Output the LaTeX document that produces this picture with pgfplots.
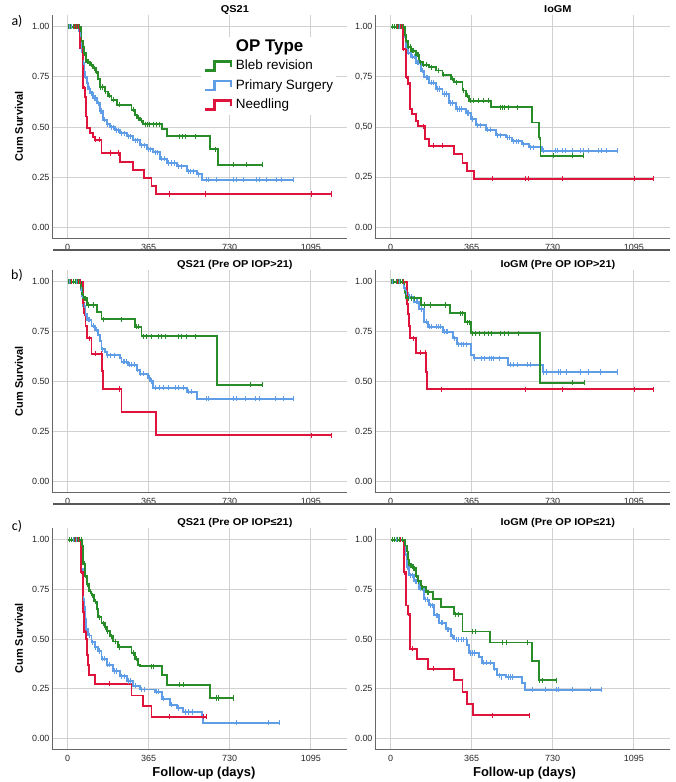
\documentclass[border=0pt]{standalone}
\usepackage{fontspec}
\setmainfont{Liberation Sans}
\newfontfamily\calibri{Carlito}
\newfontfamily\ttlfont{Liberation Sans}[FakeStretch=1.1]
\usepackage{pgfplots}
\pgfplotsset{compat=1.18}

\definecolor{kmgreen}{RGB}{40,140,40}
\definecolor{kmblue}{RGB}{95,158,230}
\definecolor{kmred}{RGB}{222,20,60}

% one Kaplan-Meier curve: colour, steps (time, survival), censored cases
\newcommand{\km}[3]{%
  \addplot[#1, const plot, line width=1.9pt, line join=miter, forget plot] coordinates {#2};
  \addplot[#1, only marks, mark=|, mark size=2.6pt, line width=1pt, forget plot] coordinates {#3};
}

\pgfplotsset{
  kmaxis/.style={
    scale only axis, width=295bp, height=222bp,
    xmin=-70, xmax=1258, ymin=-0.052, ymax=1.058,
    xtick={0,365,730,1095}, xticklabels={0,365,730,1095},
    ytick={0,0.25,0.5,0.75,1}, yticklabels={0.00,0.25,0.50,0.75,1.00},
    grid=major, grid style={draw=black!18, line width=0.8pt},
    axis lines*=left, axis line style={-, draw=black!60, line width=0.8pt},
    major tick length=0pt,
    tick label style={font=\fontsize{9}{10}\selectfont, text=black!85},
    xticklabel style={yshift=-2.5pt},
    yticklabel style={xshift=1pt},
    title style={at={(axis description cs:0.62,1)}, anchor=base, yshift=-3pt, inner sep=0pt,
      font=\ttlfont\bfseries\fontsize{10}{12}\selectfont},
    ylabel style={at={(axis description cs:-0.112,0.5)}, anchor=center, inner sep=0pt,
      font=\bfseries\fontsize{11}{13}\selectfont},
    xlabel style={at={(axis description cs:0.515,0)}, anchor=base, yshift=-28pt, inner sep=0pt,
      font=\bfseries\fontsize{13}{15}\selectfont},
  },
}

\begin{document}
\begin{tikzpicture}
\useasboundingbox (0,0) rectangle (676bp,-782bp);

% ---------------- a) QS21 ----------------
\begin{axis}[kmaxis, at={(52bp,-15bp)}, anchor=north west, height=223bp,
  title={QS21}, ylabel={Cum Survival},
  legend image code/.code={\draw[#1, line width=2.4pt] (0pt,-4.1pt) -- (9pt,-4.1pt) -- (9pt,4.9pt) -- (26pt,4.9pt) -- (26pt,-0.8pt);},
  legend cell align=left,
  legend style={at={(axis description cs:0.505,0.902)}, anchor=north west, draw=none, fill=white,
    inner xsep=3pt, inner ysep=3pt, font=\fontsize{13.5}{14}\selectfont, row sep=6pt, column sep=3.5pt,
    nodes={inner sep=0pt, text height=10pt, text depth=3.6pt}},
]
\km{kmblue}{(0,1)(51,0.98)(56,0.96)(60,0.93)(63,0.884)(68,0.85)(71,0.82)(74,0.776)(78,0.75)(86,0.718)(93,0.69)(101,0.669)(116,0.645)(131,0.619)(146,0.58)(161,0.536)(176,0.515)(191,0.50)(213,0.485)(236,0.47)(266,0.455)(296,0.435)(326,0.41)(356,0.39)(386,0.375)(416,0.343)(446,0.321)(491,0.305)(536,0.28)(581,0.265)(604,0.238)(1017,0.238)}
  {(10,1)(20,1)(30,1)(40,1)(58,0.96)(65,0.884)(72,0.82)(80,0.75)(90,0.718)(97,0.69)(108,0.669)(112,0.669)(120,0.645)(125,0.645)(138,0.619)(150,0.58)(155,0.58)(168,0.536)(182,0.515)(196,0.50)(205,0.50)(220,0.485)(228,0.485)(245,0.47)(255,0.47)(275,0.455)(285,0.455)(305,0.435)(315,0.435)(335,0.41)(345,0.41)(365,0.39)(375,0.39)(395,0.375)(405,0.375)(425,0.343)(435,0.343)(455,0.321)(470,0.321)(480,0.321)(500,0.305)(515,0.305)(545,0.28)(555,0.28)(565,0.28)(590,0.265)(626,0.238)(634,0.238)(671,0.238)(746,0.238)(761,0.238)(791,0.238)(851,0.238)(866,0.238)(896,0.238)(941,0.238)(963,0.238)(1017,0.238)}
\km{kmred}{(0,1)(56,0.892)(68,0.752)(71,0.694)(78,0.652)(83,0.553)(89,0.495)(101,0.47)(116,0.45)(123,0.437)(153,0.371)(236,0.325)(296,0.285)(345,0.247)(378,0.205)(398,0.167)(1190,0.167)}
  {(15,1)(30,1)(42,1)(50,1)(68,0.752)(75,0.694)(128,0.437)(145,0.437)(195,0.371)(231,0.371)(461,0.167)(622,0.167)(1099,0.167)(1190,0.167)}
\km{kmgreen}{(0,1)(60,0.97)(63,0.93)(68,0.90)(74,0.868)(83,0.826)(101,0.81)(116,0.793)(128,0.776)(138,0.738)(146,0.70)(168,0.677)(183,0.656)(198,0.636)(221,0.611)(288,0.586)(303,0.561)(311,0.545)(326,0.533)(341,0.515)(424,0.49)(446,0.454)(641,0.39)(676,0.313)(877,0.313)}
  {(5,1)(15,1)(25,1)(35,1)(45,1)(55,1)(70,0.90)(78,0.868)(88,0.826)(95,0.826)(106,0.81)(120,0.793)(132,0.776)(150,0.70)(158,0.70)(173,0.677)(188,0.656)(208,0.636)(236,0.611)(296,0.586)(318,0.545)(333,0.533)(349,0.515)(360,0.515)(371,0.515)(386,0.515)(401,0.515)(416,0.515)(506,0.454)(518,0.454)(529,0.454)(574,0.454)(664,0.39)(746,0.313)(807,0.313)(877,0.313)}
\addlegendimage{empty legend}
\addlegendentry{\raisebox{-1.2pt}{\fontsize{17}{17}\selectfont\bfseries OP Type}}
\addlegendimage{kmgreen}
\addlegendentry{Bleb revision}
\addlegendimage{kmblue}
\addlegendentry{Primary Surgery}
\addlegendimage{kmred}
\addlegendentry{Needling}
\end{axis}

% ---------------- a) IoGM ----------------
\begin{axis}[kmaxis, at={(375bp,-15bp)}, anchor=north west, height=223bp,
  title={IoGM}, yticklabels={0.00,{0,25},{0,50},{0,75},1.00}]
\km{kmblue}{(0,1)(66,0.95)(70,0.90)(78,0.87)(93,0.85)(115,0.82)(137,0.78)(152,0.748)(175,0.72)(205,0.69)(234,0.665)(264,0.62)(294,0.59)(339,0.57)(361,0.54)(384,0.51)(428,0.487)(473,0.46)(518,0.448)(548,0.43)(593,0.415)(623,0.40)(682,0.383)(1023,0.383)}
  {(10,1)(25,1)(40,1)(72,0.90)(82,0.87)(100,0.85)(108,0.85)(120,0.82)(128,0.82)(142,0.78)(160,0.748)(168,0.748)(183,0.72)(192,0.72)(212,0.69)(222,0.69)(242,0.665)(250,0.665)(270,0.62)(280,0.62)(300,0.59)(310,0.59)(320,0.59)(345,0.57)(352,0.57)(368,0.54)(392,0.51)(405,0.51)(435,0.487)(450,0.487)(480,0.46)(495,0.46)(525,0.448)(535,0.448)(555,0.43)(565,0.43)(575,0.43)(600,0.415)(630,0.40)(645,0.40)(690,0.383)(742,0.383)(753,0.383)(772,0.383)(787,0.383)(817,0.383)(854,0.383)(869,0.383)(891,0.383)(936,0.383)(951,0.383)(973,0.383)(1023,0.383)}
\km{kmred}{(0,1)(58,0.89)(70,0.75)(78,0.72)(88,0.59)(97,0.565)(115,0.53)(122,0.505)(157,0.44)(175,0.407)(287,0.365)(324,0.323)(346,0.282)(376,0.243)(1185,0.243)}
  {(30,1)(45,1)(52,1)(60,0.89)(72,0.75)(75,0.72)(80,0.72)(150,0.505)(193,0.407)(234,0.407)(458,0.243)(608,0.243)(620,0.243)(776,0.243)(1096,0.243)(1185,0.243)}
\km{kmgreen}{(0,1)(66,0.96)(70,0.93)(78,0.90)(93,0.88)(115,0.86)(130,0.823)(145,0.81)(175,0.798)(205,0.782)(234,0.76)(272,0.74)(287,0.723)(324,0.682)(339,0.656)(354,0.632)(451,0.598)(638,0.523)(670,0.448)(675,0.357)(873,0.357)}
  {(8,1)(18,1)(28,1)(38,1)(48,1)(58,1)(72,0.93)(82,0.90)(88,0.90)(98,0.88)(105,0.88)(120,0.86)(125,0.86)(135,0.823)(150,0.81)(160,0.81)(185,0.798)(215,0.782)(240,0.76)(278,0.74)(295,0.723)(330,0.682)(345,0.656)(360,0.632)(375,0.632)(395,0.632)(420,0.632)(440,0.632)(496,0.598)(505,0.598)(515,0.598)(533,0.598)(570,0.598)(670,0.448)(735,0.357)(817,0.357)(869,0.357)}
\end{axis}

% ---------------- b) QS21 (Pre OP IOP>21) ----------------
\begin{axis}[kmaxis, at={(52bp,-270bp)}, anchor=north west, height=222bp,
  title={QS21 (Pre OP IOP>21)}, ylabel={Cum Survival}]
\km{kmblue}{(0,1)(60,0.96)(65,0.93)(71,0.88)(78,0.84)(89,0.81)(108,0.78)(123,0.76)(138,0.732)(146,0.702)(153,0.662)(168,0.649)(176,0.632)(236,0.62)(243,0.599)(273,0.585)(311,0.56)(326,0.54)(363,0.52)(371,0.503)(386,0.47)(536,0.45)(581,0.415)(1020,0.415)}
  {(10,1)(25,1)(40,1)(50,1)(62,0.96)(68,0.93)(75,0.88)(82,0.84)(95,0.81)(100,0.81)(115,0.78)(130,0.76)(158,0.662)(180,0.632)(195,0.632)(210,0.632)(250,0.599)(258,0.599)(265,0.599)(280,0.585)(290,0.585)(300,0.585)(315,0.56)(330,0.54)(340,0.54)(368,0.52)(376,0.503)(394,0.47)(416,0.47)(431,0.47)(454,0.47)(484,0.47)(499,0.47)(521,0.47)(545,0.45)(560,0.45)(626,0.415)(634,0.415)(746,0.415)(761,0.415)(799,0.415)(844,0.415)(866,0.415)(934,0.415)(971,0.415)(1017,0.415)}
\km{kmred}{(0,1)(68,0.891)(75,0.841)(81,0.779)(89,0.716)(108,0.64)(156,0.555)(160,0.463)(243,0.348)(398,0.231)(1190,0.231)}
  {(20,1)(35,1)(48,1)(60,1)(70,0.891)(78,0.841)(101,0.716)(128,0.64)(154,0.64)(158,0.555)(236,0.463)(1099,0.231)(1187,0.231)}
\km{kmgreen}{(0,1)(60,0.97)(65,0.94)(71,0.916)(89,0.883)(131,0.85)(153,0.811)(303,0.774)(333,0.727)(671,0.485)(877,0.485)}
  {(5,1)(15,1)(25,1)(35,1)(45,1)(55,1)(68,0.94)(75,0.916)(80,0.916)(93,0.883)(116,0.883)(161,0.811)(243,0.811)(311,0.774)(318,0.774)(341,0.727)(356,0.727)(379,0.727)(409,0.727)(424,0.727)(439,0.727)(499,0.727)(514,0.727)(536,0.727)(574,0.727)(822,0.485)(877,0.485)}
\end{axis}

% ---------------- b) IoGM (Pre OP IOP>21) ----------------
\begin{axis}[kmaxis, at={(375bp,-270bp)}, anchor=north west, height=222bp,
  title={IoGM (Pre OP IOP>21)}]
\km{kmblue}{(0,1)(60,0.97)(66,0.945)(78,0.925)(107,0.90)(130,0.863)(152,0.80)(169,0.774)(237,0.749)(281,0.716)(300,0.687)(364,0.632)(375,0.616)(528,0.585)(686,0.548)(1023,0.548)}
  {(10,1)(25,1)(40,1)(62,0.97)(70,0.945)(85,0.925)(95,0.925)(115,0.90)(120,0.90)(140,0.863)(160,0.80)(175,0.774)(185,0.774)(205,0.774)(215,0.774)(225,0.774)(245,0.749)(250,0.749)(255,0.749)(290,0.716)(305,0.687)(320,0.687)(330,0.687)(340,0.687)(380,0.616)(410,0.616)(425,0.616)(445,0.616)(455,0.616)(465,0.616)(490,0.616)(540,0.585)(555,0.585)(570,0.585)(615,0.585)(630,0.585)(690,0.548)(700,0.548)(755,0.548)(765,0.548)(790,0.548)(855,0.548)(890,0.548)(945,0.548)(1023,0.548)}
\km{kmred}{(0,1)(73,0.89)(78,0.836)(82,0.78)(88,0.716)(115,0.644)(160,0.549)(163,0.462)(1185,0.462)}
  {(30,1)(45,1)(60,1)(75,0.89)(80,0.836)(103,0.716)(137,0.644)(158,0.644)(231,0.462)(608,0.462)(776,0.462)(1096,0.462)(1185,0.462)}
\km{kmgreen}{(0,1)(63,0.95)(70,0.916)(139,0.883)(267,0.841)(334,0.796)(364,0.741)(671,0.495)(873,0.495)}
  {(5,1)(15,1)(25,1)(35,1)(45,1)(55,1)(80,0.916)(95,0.916)(110,0.916)(152,0.883)(182,0.883)(249,0.883)(317,0.841)(324,0.841)(346,0.796)(354,0.796)(369,0.741)(384,0.741)(402,0.741)(421,0.741)(443,0.741)(455,0.741)(496,0.741)(511,0.741)(533,0.741)(578,0.741)(820,0.495)(873,0.495)}
\end{axis}

% ---------------- c) QS21 (Pre OP IOP<=21) ----------------
\begin{axis}[kmaxis, at={(52bp,-528bp)}, anchor=north west, height=221bp,
  title={QS21 (Pre OP IOP≤21)}, ylabel={Cum Survival}, xlabel={Follow-up (days)}]
\km{kmblue}{(0,1)(63,0.85)(68,0.702)(74,0.66)(78,0.602)(83,0.552)(93,0.518)(108,0.485)(123,0.46)(138,0.44)(153,0.401)(176,0.371)(206,0.34)(236,0.314)(266,0.29)(296,0.265)(326,0.247)(394,0.235)(424,0.20)(461,0.17)(491,0.154)(521,0.134)(604,0.11)(608,0.08)(954,0.08)}
  {(10,1)(25,1)(40,1)(70,0.702)(85,0.552)(100,0.518)(112,0.485)(128,0.46)(142,0.44)(158,0.401)(165,0.401)(182,0.371)(190,0.371)(212,0.34)(220,0.34)(245,0.314)(255,0.314)(275,0.29)(282,0.29)(305,0.265)(335,0.247)(345,0.247)(400,0.235)(410,0.235)(430,0.20)(470,0.17)(498,0.154)(529,0.134)(544,0.134)(563,0.134)(761,0.08)(904,0.08)(954,0.08)}
\km{kmred}{(0,1)(60,0.839)(68,0.635)(74,0.543)(83,0.50)(89,0.418)(93,0.37)(98,0.318)(123,0.276)(288,0.217)(341,0.164)(378,0.11)(626,0.11)}
  {(20,1)(35,1)(50,1)(62,0.839)(72,0.543)(78,0.543)(191,0.276)(461,0.11)(611,0.11)(626,0.11)}
\km{kmgreen}{(0,1)(65,0.97)(71,0.878)(78,0.819)(89,0.777)(98,0.739)(108,0.72)(120,0.689)(131,0.652)(138,0.61)(153,0.58)(168,0.56)(176,0.54)(191,0.515)(206,0.488)(228,0.46)(288,0.43)(303,0.401)(318,0.37)(326,0.363)(424,0.318)(446,0.271)(641,0.204)(746,0.204)}
  {(8,1)(20,1)(30,1)(45,1)(55,1)(62,1)(75,0.878)(82,0.819)(92,0.777)(103,0.739)(112,0.72)(125,0.689)(135,0.652)(145,0.61)(160,0.58)(172,0.56)(182,0.54)(200,0.515)(215,0.488)(235,0.46)(297,0.43)(310,0.401)(378,0.363)(389,0.363)(506,0.271)(521,0.271)(671,0.204)(679,0.204)(746,0.204)}
\end{axis}

% ---------------- c) IoGM (Pre OP IOP<=21) ----------------
\begin{axis}[kmaxis, at={(375bp,-528bp)}, anchor=north west, height=221bp,
  title={IoGM (Pre OP IOP≤21)}, xlabel={Follow-up (days)},
  xlabel style={at={(axis description cs:0.507,0)}}]
\km{kmblue}{(0,1)(67,0.92)(73,0.861)(85,0.82)(107,0.79)(130,0.753)(152,0.699)(175,0.67)(197,0.619)(220,0.582)(249,0.55)(272,0.515)(287,0.498)(346,0.47)(354,0.43)(399,0.41)(413,0.381)(466,0.351)(481,0.318)(518,0.31)(593,0.281)(605,0.246)(951,0.246)}
  {(10,1)(25,1)(40,1)(70,0.92)(78,0.861)(90,0.82)(98,0.82)(112,0.79)(118,0.79)(135,0.753)(142,0.753)(158,0.699)(165,0.699)(182,0.67)(190,0.67)(205,0.619)(210,0.619)(228,0.582)(235,0.582)(255,0.55)(262,0.55)(278,0.515)(295,0.498)(305,0.498)(318,0.498)(330,0.498)(340,0.498)(360,0.43)(370,0.43)(380,0.43)(420,0.381)(430,0.381)(450,0.381)(470,0.351)(490,0.318)(500,0.31)(530,0.31)(540,0.31)(550,0.31)(638,0.246)(697,0.246)(749,0.246)(757,0.246)(819,0.246)(898,0.246)(951,0.246)}
\km{kmred}{(0,1)(60,0.836)(70,0.669)(78,0.627)(88,0.452)(119,0.401)(167,0.351)(287,0.293)(324,0.234)(346,0.176)(373,0.117)(627,0.117)}
  {(30,1)(45,1)(52,1)(62,0.836)(82,0.627)(97,0.452)(194,0.351)(458,0.117)(627,0.117)}
\km{kmgreen}{(0,1)(66,0.97)(73,0.94)(78,0.90)(85,0.87)(100,0.855)(115,0.819)(122,0.79)(137,0.761)(160,0.736)(190,0.70)(227,0.661)(287,0.625)(324,0.538)(446,0.483)(638,0.388)(670,0.293)(747,0.293)}
  {(8,1)(18,1)(30,1)(42,1)(55,1)(75,0.94)(88,0.87)(95,0.87)(105,0.855)(110,0.855)(118,0.819)(128,0.79)(140,0.761)(145,0.761)(165,0.736)(170,0.736)(294,0.625)(306,0.625)(369,0.538)(384,0.538)(503,0.483)(521,0.483)(615,0.483)(670,0.293)(682,0.293)(747,0.293)}
\end{axis}

% panel letters and row separators
\node[font=\calibri\fontsize{14}{14}\selectfont] at (17bp,-21bp) {a)};
\node[font=\calibri\fontsize{14}{14}\selectfont] at (17bp,-275bp) {b)};
\node[font=\calibri\fontsize{14}{14}\selectfont] at (17bp,-526bp) {c)};
\draw[draw=black!65, line width=1.2pt] (53bp,-250bp) -- (670bp,-250bp);
\draw[draw=black!65, line width=1.2pt] (53bp,-504bp) -- (670bp,-504bp);
\end{tikzpicture}
\end{document}
